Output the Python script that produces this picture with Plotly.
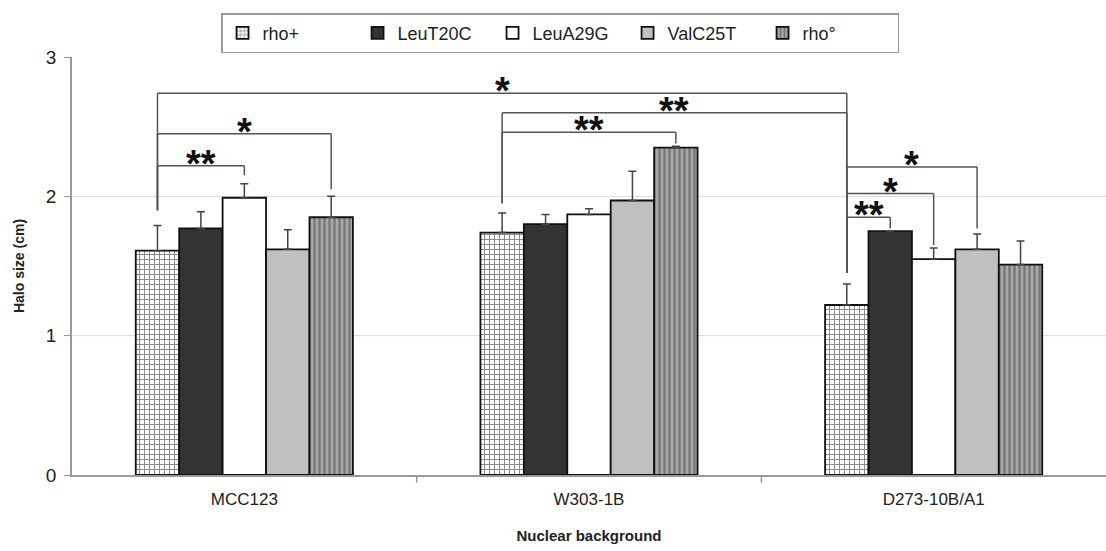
import plotly.graph_objects as go

categories = ["MCC123", "W303-1B", "D273-10B/A1"]
series = ["rho+", "LeuT20C", "LeuA29G", "ValC25T", "rho°"]
values = {
    "rho+":    [1.61, 1.74, 1.22],
    "LeuT20C": [1.77, 1.80, 1.75],
    "LeuA29G": [1.99, 1.87, 1.55],
    "ValC25T": [1.62, 1.97, 1.62],
    "rho°":    [1.85, 2.35, 1.51],
}
errors = {
    "rho+":    [0.18, 0.14, 0.15],
    "LeuT20C": [0.12, 0.07, 0.00],
    "LeuA29G": [0.10, 0.04, 0.08],
    "ValC25T": [0.14, 0.21, 0.11],
    "rho°":    [0.15, 0.01, 0.17],
}
# significance brackets: (group_left, bar_left, group_right, bar_right, y_line, y_left_end, y_right_end, label)
brackets = [
    (0, 0, 2, 0, 2.74, 1.90, 1.45, "*"),
    (0, 0, 0, 2, 2.22, 1.90, 2.15, "**"),
    (0, 0, 0, 4, 2.45, 1.90, 2.05, "*"),
    (1, 0, 2, 0, 2.60, 1.95, 1.45, "**"),
    (1, 0, 1, 4, 2.46, 1.95, 2.38, "**"),
    (2, 0, 2, 3, 2.21, 1.45, 1.77, "*"),
    (2, 0, 2, 2, 2.02, 1.45, 1.65, "*"),
    (2, 0, 2, 1, 1.85, 1.45, 1.77, "**"),
]

styles = {
    "rho+":    dict(color="white", pattern=dict(shape="+", fgcolor="#111", bgcolor="white", size=5, solidity=0.35)),
    "LeuT20C": dict(color="#333333"),
    "LeuA29G": dict(color="white"),
    "ValC25T": dict(color="#c0c0c0"),
    "rho°":    dict(color="#999999", pattern=dict(shape="|", fgcolor="#444", bgcolor="#a8a8a8", size=5, solidity=0.45)),
}

bargap = 0.37
nb = len(series)
bw = (1 - bargap) / nb

fig = go.Figure()
for s in series:
    fig.add_trace(go.Bar(
        name=s, x=list(range(len(categories))), y=values[s],
        marker=dict(line=dict(color="#111", width=1.8), **styles[s]),
        error_y=dict(type="data", symmetric=False, array=errors[s],
                     arrayminus=[0] * len(categories),
                     color="#444", thickness=1.5, width=4),
    ))

def bx(g, b):
    return g + (b - (nb - 1) / 2) * bw

shapes = []
annotations = []
lc = dict(color="#555", width=1.5)
for gl, bl, gr, br, yl, yle, yre, lab in brackets:
    xl, xr = bx(gl, bl), bx(gr, br)
    shapes.append(dict(type="line", xref="x", yref="y", x0=xl, x1=xr, y0=yl, y1=yl, line=lc))
    shapes.append(dict(type="line", xref="x", yref="y", x0=xl, x1=xl, y0=yl, y1=yle, line=lc))
    shapes.append(dict(type="line", xref="x", yref="y", x0=xr, x1=xr, y0=yl, y1=yre, line=lc))
    annotations.append(dict(x=(xl + xr) / 2, y=yl, xref="x", yref="y", text="<b>" + lab + "</b>",
                            showarrow=False, yanchor="bottom", yshift=-21,
                            font=dict(size=38, color="#111", family="Liberation Sans")))
for gy in [1, 2]:
    shapes.append(dict(type="line", xref="paper", yref="y", x0=0, x1=1, y0=gy, y1=gy,
                       line=dict(color="#d9d9d9", width=1), layer="below"))

fig.update_layout(
    width=1106, height=551,
    margin=dict(l=72, r=0, t=57, b=76),
    paper_bgcolor="white", plot_bgcolor="white",
    barmode="group", bargap=bargap, bargroupgap=0,
    font=dict(family="Liberation Sans", color="#222"),
    shapes=shapes, annotations=annotations,
    legend=dict(orientation="h", x=0.472, xanchor="center", y=1.105, yanchor="top",
                bordercolor="#999", borderwidth=1.5, font=dict(size=18),
                itemwidth=30, entrywidth=90, traceorder="normal"),
    xaxis=dict(tickmode="array", tickvals=list(range(len(categories))), ticktext=categories,
               range=[-0.5, 2.5], showline=True, linecolor="#999", linewidth=1.5,
               ticks="", tickfont=dict(size=17), ticklabelstandoff=8,
               title=dict(text="<b>Nuclear background</b>", font=dict(size=15), standoff=22)),
    yaxis=dict(range=[0, 3], tickvals=[0, 1, 2, 3], showgrid=False, showline=True,
               linecolor="#999", linewidth=1.5, ticks="outside", ticklen=6, tickcolor="#999",
               tickfont=dict(size=19), zeroline=False, ticklabelstandoff=4,
               title=dict(text="<b>Halo size (cm)</b>", font=dict(size=14), standoff=18)),
)
# boundary tick marks between categories on x axis
for xb in [0.5, 1.5]:
    fig.add_shape(type="line", xref="x", yref="paper", x0=xb, x1=xb, y0=0, y1=-0.018,
                  line=dict(color="#999", width=1.5))

fig.write_html("out.html")
